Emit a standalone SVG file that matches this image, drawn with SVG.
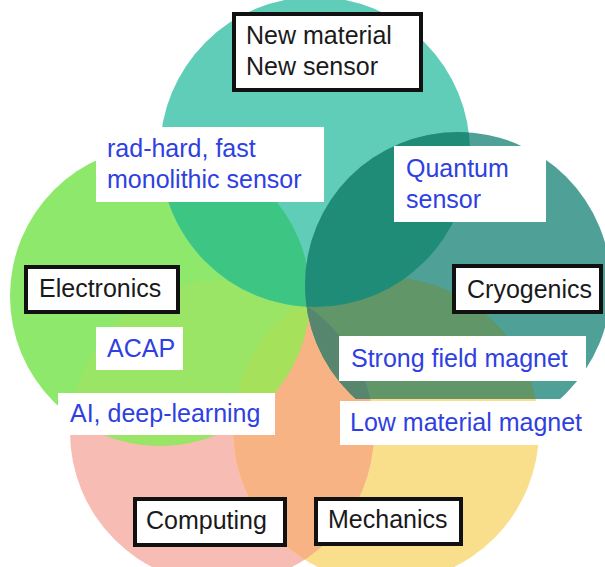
<svg xmlns="http://www.w3.org/2000/svg" width="605" height="567" viewBox="0 0 605 567">
<style>
  .cat{fill:#ffffff;stroke:#111111;stroke-width:4}
  .lbl{fill:#ffffff}
  text{font-family:"Liberation Sans",Arial,sans-serif;font-size:25px}
  .k{fill:#1a1a1a}
  .b{fill:#2f3fe2}
</style>
<defs>
  <circle id="P" cx="222" cy="432" r="152"/>
  <circle id="Y" cx="386" cy="430" r="153"/>
  <circle id="G" cx="160" cy="296" r="150"/>
  <circle id="T" cx="315" cy="152" r="155"/>
  <circle id="D" cx="458" cy="285" r="153"/>
  <clipPath id="cP"><use href="#P"/></clipPath>
  <clipPath id="cY"><use href="#Y"/></clipPath>
  <clipPath id="cG"><use href="#G"/></clipPath>
  <clipPath id="cT"><use href="#T"/></clipPath>
  <clipPath id="cCut"><rect x="0" y="0" width="605" height="399"/></clipPath>
</defs>
<rect width="605" height="567" fill="#ffffff"/>
<g id="venn">
  <use href="#P" fill="#f7bdb5"/>
  <use href="#Y" fill="#f9df8c"/>
  <g clip-path="url(#cP)"><use href="#Y" fill="#f7b384"/></g>
  <use href="#G" fill="#8ee86c"/>
  <g clip-path="url(#cP)"><use href="#G" fill="#9ae466"/></g>
  <g clip-path="url(#cY)"><use href="#G" fill="#a6e15c"/></g>
  <use href="#T" fill="#5fcdb7"/>
  <g clip-path="url(#cG)"><use href="#T" fill="#3dc683"/></g>
  <g clip-path="url(#cCut)">
    <use href="#D" fill="#4fa198"/>
    <g clip-path="url(#cY)"><use href="#D" fill="#619669"/></g>
    <g clip-path="url(#cP)"><use href="#D" fill="#56876e"/></g>
    <g clip-path="url(#cT)"><use href="#D" fill="#1f8c78"/></g>
  </g>
</g>
<g id="connectors"></g>
<g id="node-new-material">
  <rect class="cat" x="234" y="14" width="187" height="76"/>
  <text class="k" x="246" y="44">New material</text>
  <text class="k" x="246" y="75">New sensor</text>
</g>
<g id="node-rad-hard">
  <rect class="lbl" x="96" y="127" width="228" height="75"/>
  <text class="b" x="107" y="157">rad-hard, fast</text>
  <text class="b" x="107" y="188">monolithic sensor</text>
</g>
<g id="node-quantum">
  <rect class="lbl" x="394" y="146" width="152" height="76"/>
  <text class="b" x="406" y="177">Quantum</text>
  <text class="b" x="406" y="208">sensor</text>
</g>
<g id="node-electronics">
  <rect class="cat" x="26" y="267" width="152" height="45"/>
  <text class="k" x="39" y="297">Electronics</text>
</g>
<g id="node-cryogenics">
  <rect class="cat" x="454" y="266" width="147" height="46"/>
  <text class="k" x="467" y="298">Cryogenics</text>
</g>
<g id="node-acap">
  <rect class="lbl" x="96" y="327" width="87" height="43"/>
  <text class="b" x="107" y="357">ACAP</text>
</g>
<g id="node-strong">
  <rect class="lbl" x="339" y="336" width="247" height="45"/>
  <text class="b" x="351" y="367">Strong field magnet</text>
</g>
<g id="node-ai">
  <rect class="lbl" x="58" y="393" width="217" height="42"/>
  <text class="b" x="70" y="422">AI, deep-learning</text>
</g>
<g id="node-low">
  <rect class="lbl" x="340" y="401" width="245" height="44"/>
  <text class="b" x="350" y="431">Low material magnet</text>
</g>
<g id="node-computing">
  <rect class="cat" x="135" y="499" width="150" height="46"/>
  <text class="k" x="146" y="529">Computing</text>
</g>
<g id="node-mechanics">
  <rect class="cat" x="316" y="499" width="145" height="45"/>
  <text class="k" x="328" y="528">Mechanics</text>
</g>
</svg>
